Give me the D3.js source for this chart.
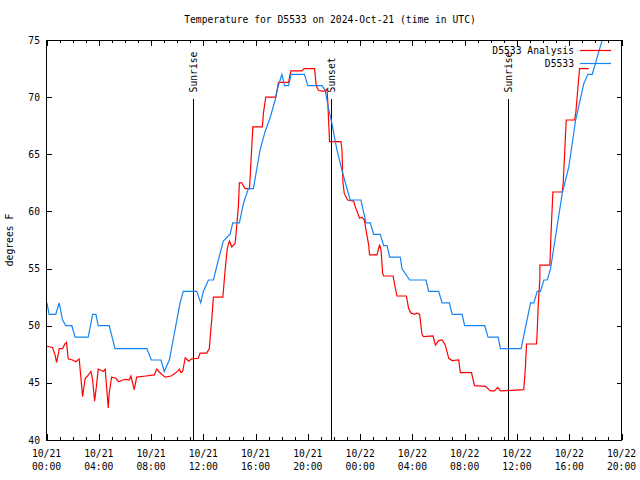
<!DOCTYPE html>
<html>
<head>
<meta charset="utf-8">
<script src="https://cdn.jsdelivr.net/npm/d3@7"></script>
<style>
  html, body { margin: 0; padding: 0; background: #fff; }
  svg { display: block; }
  text { font-family: "DejaVu Sans Mono", "Liberation Mono", monospace; font-size: 9.7px; fill: #000; }
</style>
</head>
<body>
<svg id="chart" width="640" height="480"></svg>
<script>
// ---- Data (hours since 2024-10-21 00:00 UTC, temperature in F) ----
const titleText = "Temperature for D5533 on 2024-Oct-21 (time in UTC)";
const yLabel = "degrees F";
const seriesNames = ["D5533 Analysis", "D5533"];

const analysisHours = [0.03,0.46,0.66,0.77,0.92,0.97,1.23,1.40,1.53,1.66,1.99,2.25,2.50,2.63,2.76,2.96,3.14,3.40,3.53,3.68,3.83,3.96,4.16,4.34,4.49,4.68,4.72,4.80,4.98,5.31,5.52,5.83,6.08,6.33,6.46,6.59,6.71,6.90,7.61,8.25,8.43,8.76,9.09,9.53,9.78,10.04,10.16,10.29,10.42,10.62,10.88,11.11,11.62,11.75,12.26,12.46,12.57,12.65,12.77,13.49,13.54,13.67,13.84,13.99,14.18,14.43,14.51,14.68,14.76,14.94,15.20,15.53,15.58,15.66,15.79,16.52,16.60,16.78,17.55,17.75,18.52,18.70,19.54,19.72,20.51,20.64,20.81,21.20,21.46,21.53,21.58,21.66,22.53,22.61,22.68,22.78,23.04,23.50,23.63,23.96,24.14,24.32,24.52,24.65,24.72,25.29,25.49,25.60,25.72,25.80,26.52,26.69,26.82,27.54,27.71,27.90,28.17,28.35,28.55,28.74,28.86,29.58,29.76,30.01,30.27,30.52,30.78,31.04,31.54,31.67,32.52,32.75,33.59,33.97,34.28,34.53,34.74,35.63,36.52,36.65,36.73,37.50,37.55,37.63,37.75,37.76,38.52,38.62,38.75,39.47,39.54,39.64,39.77,40.41,40.51,40.66,40.79,41.50];
const analysisTemps = [48.2,48.1,47.4,46.8,47.6,48.0,48.0,48.4,48.55,47.1,47.0,46.85,47.1,45.5,43.8,45.4,45.6,46.0,45.25,43.4,44.8,46.2,46.1,46.0,46.2,43.5,42.8,44.1,45.5,45.4,45.1,45.25,45.3,45.25,45.6,45.0,44.4,45.5,45.6,45.7,46.2,45.8,45.5,45.6,45.8,46.0,46.2,45.9,46.0,47.2,46.9,47.1,47.15,47.6,47.6,48.0,49.6,50.6,52.5,52.5,53.1,54.9,56.8,57.4,56.9,57.2,58.1,60.4,62.5,62.5,62.0,62.0,62.9,64.65,67.4,67.4,68.6,70.0,70.0,71.3,71.3,72.3,72.3,72.5,72.5,71.0,70.6,70.5,70.7,69.5,68.1,66.1,66.1,65.4,62.6,61.6,61.0,60.9,60.4,59.4,59.5,59.25,57.9,57.1,56.2,56.2,57.1,56.6,54.6,54.35,54.35,53.3,52.6,52.6,51.5,51.1,51.0,51.1,51.0,49.2,49.05,49.1,48.3,48.7,48.75,48.3,47.15,46.95,47.0,45.9,45.9,44.75,44.7,44.3,44.3,44.6,44.3,44.35,44.4,46.4,48.4,48.4,49.5,51.8,54.1,55.3,55.3,58.4,61.7,61.7,62.5,64.85,68.0,68.0,68.7,70.8,72.5,72.5];

const stationHours = [0.03,0.20,0.71,0.97,1.23,1.48,1.94,2.19,3.19,3.53,3.78,3.96,4.80,5.24,7.68,8.02,8.76,9.01,9.40,10.22,10.47,11.50,11.80,12.00,12.39,12.77,13.15,13.53,14.05,14.25,14.76,15.07,15.45,15.83,16.35,16.73,17.11,17.50,17.63,17.75,18.01,18.21,18.52,18.72,19.74,20.00,21.08,21.33,21.58,21.84,22.22,22.61,22.81,23.24,24.06,24.45,24.78,25.03,25.54,25.80,26.06,26.26,27.07,27.20,27.79,29.04,29.24,30.01,30.27,30.83,31.04,31.80,32.00,33.53,33.79,34.56,34.74,36.32,37.04,37.29,37.55,37.80,38.06,38.32,38.57,39.47,39.97,40.49,41.12,41.43,41.76,42.02,42.27,42.78];
const stationTemps = [52,51,51,52,50.5,50,50,49,49,51,51,50,50,48,48,47,47,46,47,52,53,53,52,53,54,54,55.75,57.4,58,59,59,60.7,62,62,65.4,67,68.2,69.75,70.5,71,72,71,71,72,72,71,71,70.6,69,67.7,65.4,63.6,62.75,61,61,59,59,58,58,57,57,56,56,55,54,54,53,53,52,52,51,51,50,50,49,49,48,48,52,52,53,53,54,54,55,61.6,63.9,68,71.2,72,72,73,74,76];

const sunEventNames = ["Sunrise", "Sunset", "Sunrise"];
const sunEventHours = [11.21, 21.79, 35.30];
const sunLineTop = 69.8;

const yTicks = [40, 45, 50, 55, 60, 65, 70, 75];
const xTickLabels = [["10/21","00:00"],["10/21","04:00"],["10/21","08:00"],["10/21","12:00"],["10/21","16:00"],["10/21","20:00"],["10/22","00:00"],["10/22","04:00"],["10/22","08:00"],["10/22","12:00"],["10/22","16:00"],["10/22","20:00"]];

// ---- Build ----
const base = Date.UTC(2024, 9, 21, 0, 0, 0);
const toDate = h => new Date(base + h * 3600e3);
const analysis = analysisHours.map((h, i) => ({ t: toDate(h), v: analysisTemps[i] }));
const station = stationHours.map((h, i) => ({ t: toDate(h), v: stationTemps[i] }));

const svg = d3.select("#chart");
const L = 46.5, R = 621.5, T = 40, B = 440;
const x = d3.scaleUtc().domain([toDate(0), toDate(44)]).range([L, R]);
const y = d3.scaleLinear().domain([40, 75]).range([B, T]);

svg.append("defs").append("clipPath").attr("id", "clip")
  .append("rect").attr("x", L).attr("y", T).attr("width", R - L).attr("height", B - T);

// Title
svg.append("text").attr("x", 330).attr("y", 23).attr("text-anchor", "middle").text(titleText);

// Y label
svg.append("text").attr("transform", "translate(13,240) rotate(-90)")
  .attr("text-anchor", "middle").text(yLabel);

// Axes
const majorX = d3.utcHour.every(4).range(toDate(0), toDate(44.01));
const minorX = d3.utcHour.every(1).range(toDate(0), toDate(44.01));

const gx = svg.append("g").attr("shape-rendering", "crispEdges");
gx.selectAll("line.minb").data(minorX).join("line")
  .attr("x1", d => Math.round(x(d)) + 0.5).attr("x2", d => Math.round(x(d)) + 0.5)
  .attr("y1", B).attr("y2", d => majorX.some(m => +m === +d) ? B - 6 : B - 3)
  .attr("stroke", "#000");
gx.selectAll("line.mint").data(minorX).join("line")
  .attr("x1", d => Math.round(x(d)) + 0.5).attr("x2", d => Math.round(x(d)) + 0.5)
  .attr("y1", T).attr("y2", d => majorX.some(m => +m === +d) ? T + 6 : T + 3)
  .attr("stroke", "#000");

const xl = svg.append("g");
majorX.forEach((d, i) => {
  const t = xl.append("text").attr("x", x(d)).attr("text-anchor", "middle");
  t.append("tspan").attr("x", x(d)).attr("y", 457).text(xTickLabels[i][0]);
  t.append("tspan").attr("x", x(d)).attr("y", 470).text(xTickLabels[i][1]);
});

const gy = svg.append("g").attr("shape-rendering", "crispEdges");
yTicks.forEach(v => {
  const yy = Math.round(y(v)) + 0.5;
  gy.append("line").attr("x1", L).attr("x2", L + 5).attr("y1", yy).attr("y2", yy).attr("stroke", "#000");
  gy.append("line").attr("x1", R - 5).attr("x2", R).attr("y1", yy).attr("y2", yy).attr("stroke", "#000");
  svg.append("text").attr("x", 40).attr("y", y(v) + 3.5).attr("text-anchor", "end").text(v);
});

// Sun event lines
const sun = svg.append("g");
sunEventHours.forEach((h, i) => {
  const xx = Math.round(x(toDate(h))) + 0.5;
  sun.append("line").attr("x1", xx).attr("x2", xx).attr("y1", y(sunLineTop)).attr("y2", B)
    .attr("stroke", "#000").attr("shape-rendering", "crispEdges");
  sun.append("text").attr("transform", `translate(${xx + 3.5},${y(sunLineTop) - 7}) rotate(-90)`)
    .attr("text-anchor", "start").text(sunEventNames[i]);
});

// Lines
const line = d3.line().x(d => x(d.t)).y(d => y(d.v));
const plot = svg.append("g").attr("clip-path", "url(#clip)");
plot.append("path").datum(analysis).attr("d", line).attr("fill", "none").attr("stroke", "#ff0000").attr("stroke-width", 1.2);
plot.append("path").datum(station).attr("d", line).attr("fill", "none").attr("stroke", "#1584f5").attr("stroke-width", 1.2);

// Legend
const colors = ["#ff0000", "#1584f5"];
seriesNames.forEach((n, i) => {
  const ly = 50 + i * 13;
  svg.append("text").attr("x", 574).attr("y", ly + 3.5).attr("text-anchor", "end").text(n);
  svg.append("line").attr("x1", 580).attr("x2", 611).attr("y1", ly + 0.5).attr("y2", ly + 0.5)
    .attr("stroke", colors[i]).attr("stroke-width", 1.2);
});

// Border
svg.append("rect").attr("x", L).attr("y", T).attr("width", R - L).attr("height", B - T)
  .attr("fill", "none").attr("stroke", "#000").attr("shape-rendering", "crispEdges");
</script>
</body>
</html>
